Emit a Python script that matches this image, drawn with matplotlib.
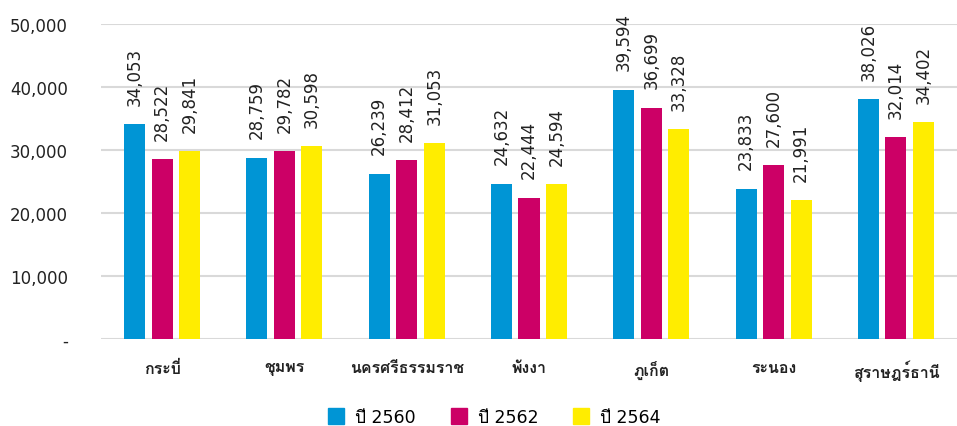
import matplotlib
matplotlib.use("Agg")
import matplotlib.pyplot as plt
import numpy as np
from matplotlib.lines import Line2D

plt.rcParams['font.family'] = ['DejaVu Sans', 'Loma']

categories = ["กระบี่", "ชุมพร", "นครศรีธรรมราช", "พังงา", "ภูเก็ต", "ระนอง", "สุราษฎร์ธานี"]
series_names = ["ปี 2560", "ปี 2562", "ปี 2564"]
v2560 = [34053, 28759, 26239, 24632, 39594, 23833, 38026]
v2562 = [28522, 29782, 28412, 22444, 36699, 27600, 32014]
v2564 = [29841, 30598, 31053, 24594, 33328, 21991, 34402]
yticks = [0, 10000, 20000, 30000, 40000, 50000]
ytick_labels = ["-", "10,000", "20,000", "30,000", "40,000", "50,000"]
colors = ["#0095D5", "#CC0066", "#FFED00"]

fig = plt.figure(figsize=(9.57, 4.27), dpi=100)
ax = fig.add_axes([101/957, 1-340/427, 856/957, 315/427])

x = np.arange(len(categories))
width = 0.172
step = 0.225
for i, (vals, col) in enumerate(zip([v2560, v2562, v2564], colors)):
    pos = x + (i - 1) * step
    bars = ax.bar(pos, vals, width=width, color=col, zorder=3)
    for b, v in zip(bars, vals):
        ax.annotate(f"{v:,}", (b.get_x() + b.get_width()/2, v), xytext=(0, 14),
                    textcoords='offset points', rotation=90, ha='center', va='bottom',
                    fontsize=12, color='#222222', annotation_clip=False)

ax.set_xlim(-0.5, len(categories) - 0.5)
ax.set_ylim(0, 50000)
ax.set_yticks(yticks)
ax.set_yticklabels(ytick_labels, fontsize=12, color='#222222')
ax.set_xticks(x)
ax.set_xticklabels(categories, fontsize=11.5, fontweight='bold', color='#222222',
                   family=['Loma'])
ax.tick_params(axis='y', length=0, pad=24)
ax.tick_params(axis='x', length=0, pad=15)
for s in ax.spines.values():
    s.set_visible(False)
ax.yaxis.grid(True, color='#d9d9d9', linewidth=1.5, zorder=0)
ax.set_axisbelow(True)

handles = [Line2D([], [], marker='s', linestyle='none', markersize=11,
                  markerfacecolor=c, markeredgecolor=c) for c in colors]
fig.legend(handles, series_names, loc='center', bbox_to_anchor=(494/957, 1-418/427),
           ncol=3, frameon=False, fontsize=12.5, handletextpad=0.6, columnspacing=1.95,
           handlelength=1.0)

fig.savefig("out.png", dpi=100)
